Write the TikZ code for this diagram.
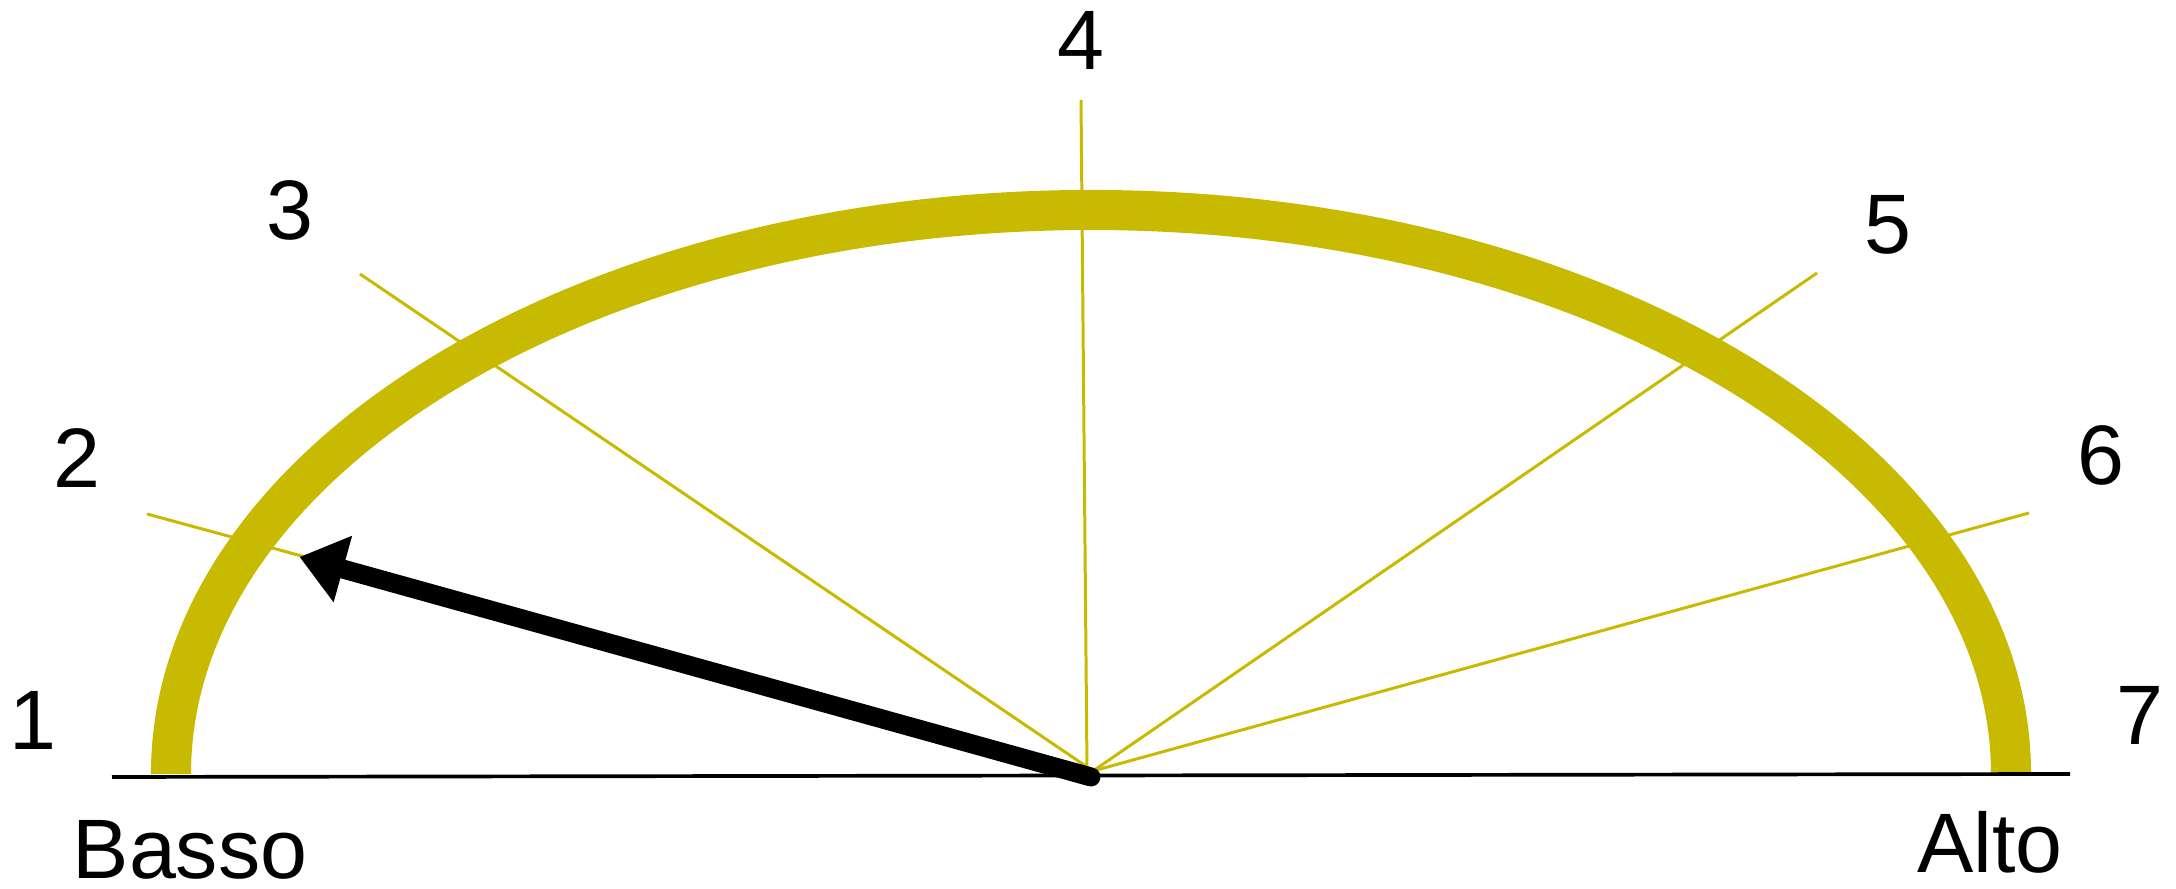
\documentclass[tikz,border=0pt]{standalone}
\usepackage{fontspec}
\setmainfont{Liberation Sans}
\usetikzlibrary{arrows.meta}
\definecolor{olive}{RGB}{200,186,0}
\begin{document}
\begin{tikzpicture}[x=0.01cm,y=0.01cm,
  ray/.style={draw=olive,line width=0.85pt},
  lbl/.style={inner sep=0pt,anchor=base,text depth=0pt,font=\fontsize{24}{28}\selectfont},
  base/.style={draw=black,line width=1.05pt},
  gauge/.style={draw=olive,line width=11.4pt},
  needle/.style={draw=black,line width=5.4pt,line cap=round,
    -{Triangle[length=4.5mm,width=6.6mm]}}]
\useasboundingbox (0,0) rectangle (2176,889);
\coordinate (o) at (1093,118);
\coordinate (o4) at (1087,119);
\coordinate (bl) at (112,112);
\coordinate (br) at (2070,115);
\coordinate (r2) at (147,375);
\coordinate (r3) at (360,615);
\coordinate (r4) at (1081,789);
\coordinate (r5) at (1817,616);
\coordinate (r6) at (2029,376);
\coordinate (tip) at (299.5,332);
\coordinate (tail) at (1091,112);
% gauge arc
\draw[gauge] (171,115) arc[start angle=180,end angle=0,x radius=920,y radius=564];
% rays
\foreach \r in {r2,r3,r5,r6} \draw[ray] (o) -- (\r);
\draw[ray] (o4) -- (r4);
% baseline
\draw[base] (bl) -- (br);
% needle
\draw[needle] (tail) -- (tip);
% labels
\node[lbl] (l1) at (33,139) {1};
\node[lbl] (l2) at (77,401) {2};
\node[lbl] (l3) at (290,649) {3};
\node[lbl] (l4) at (1081,819) {4};
\node[lbl] (l5) at (1888,635) {5};
\node[lbl] (l6) at (2101,404) {6};
\node[lbl] (l7) at (2140,144) {7};
\node[lbl] (basso) at (190,10) {Basso};
\node[lbl] (alto) at (1990,16) {Alto};
\end{tikzpicture}
\end{document}
